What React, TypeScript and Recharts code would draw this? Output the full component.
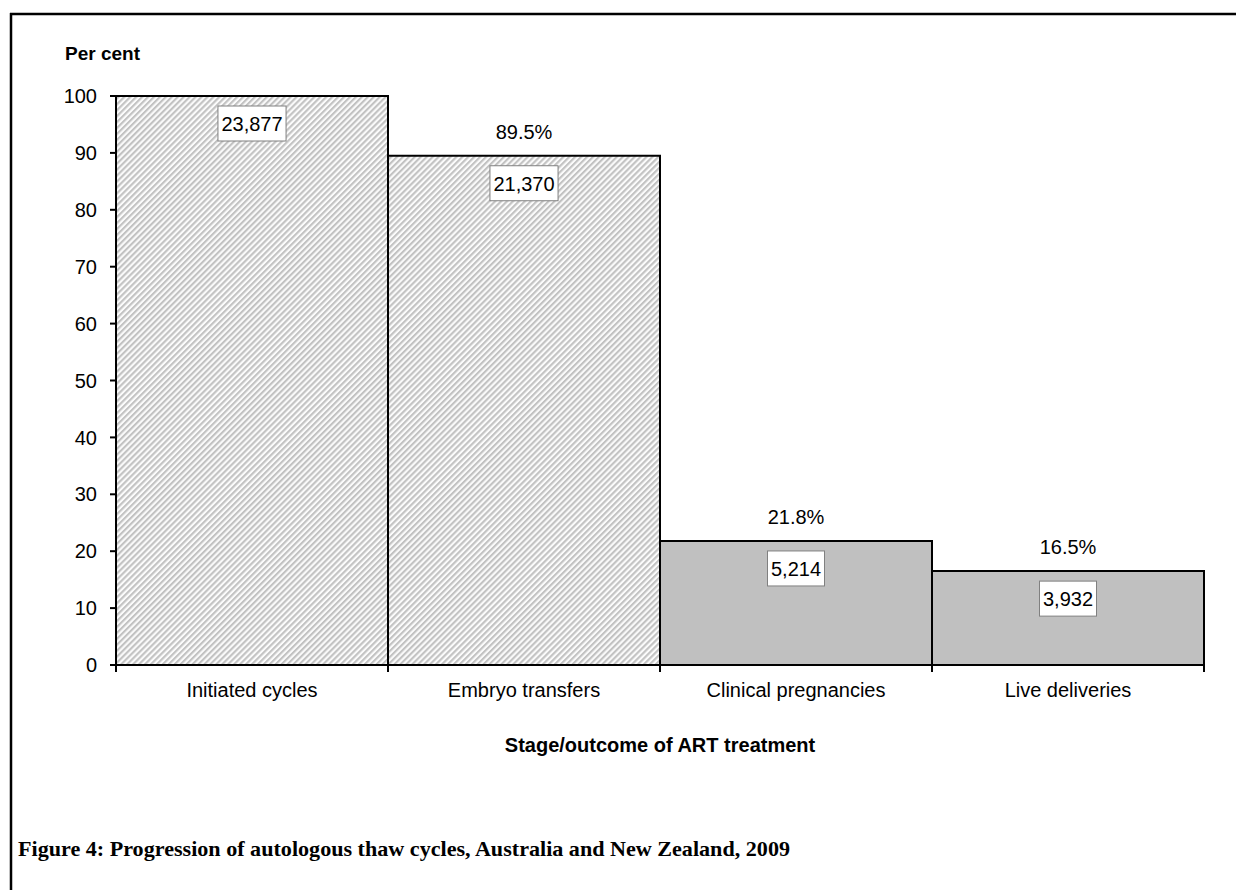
import React from 'react';
import { BarChart, Bar, XAxis, YAxis, Cell, LabelList } from 'recharts';

const categories = ['Initiated cycles', 'Embryo transfers', 'Clinical pregnancies', 'Live deliveries'];
const percentValues = [100, 89.5, 21.8, 16.5];
const counts = ['23,877', '21,370', '5,214', '3,932'];
const percentLabels = ['', '89.5%', '21.8%', '16.5%'];
const yTicks = [0, 10, 20, 30, 40, 50, 60, 70, 80, 90, 100];
const hatched = [true, true, false, false];

const data = categories.map((name, i) => ({
  name,
  value: percentValues[i],
  count: counts[i],
  pct: percentLabels[i],
}));

const W = 1236;
const H = 890;
const MARGIN = { top: 96, right: 32, left: 56, bottom: 175 };
const Y_AXIS_W = 60;
const PLOT_W = W - MARGIN.left - MARGIN.right - Y_AXIS_W;
const HALF_BAND = PLOT_W / categories.length / 2;
const FONT = '"Liberation Sans", Arial, sans-serif';

const CatTick = (props: any) => {
  const { x, y, payload, index } = props;
  return (
    <g>
      <line x1={x - HALF_BAND} y1={y} x2={x - HALF_BAND} y2={y + 7} stroke="#000" strokeWidth={2} />
      {index === categories.length - 1 ? (
        <line x1={x + HALF_BAND} y1={y} x2={x + HALF_BAND} y2={y + 7} stroke="#000" strokeWidth={2} />
      ) : null}
      <text x={x} y={y} dy={32} textAnchor="middle" fontFamily={FONT} fontSize={20} fill="#000">
        {payload.value}
      </text>
    </g>
  );
};

const LabelContent = (props: any) => {
  const { x, y, width, index } = props;
  const cx = Number(x) + Number(width) / 2;
  const top = Number(y);
  const count = counts[index];
  const pct = percentLabels[index];
  const digits = count.replace(/[^0-9]/g, '').length;
  const commas = count.length - digits;
  const bw = digits * 11.1 + commas * 5.6 + 7;
  return (
    <g>
      {pct ? (
        <text x={cx} y={top - 24} textAnchor="middle" dominantBaseline="central" fontFamily={FONT} fontSize={20} fill="#000">
          {pct}
        </text>
      ) : null}
      <rect x={cx - bw / 2} y={top + 10} width={bw} height={35} fill="#fff" stroke="#808080" strokeWidth={1} />
      <text x={cx} y={top + 28} textAnchor="middle" dominantBaseline="central" fontFamily={FONT} fontSize={20} fill="#000">
        {count}
      </text>
    </g>
  );
};

export default function App() {
  return (
    <div style={{ position: 'absolute', left: 0, top: 0, width: W, height: H, background: '#fff' }}>
      <svg width={0} height={0} style={{ position: 'absolute' }}>
        <defs>
          <pattern id="hatch" patternUnits="userSpaceOnUse" width={4.2} height={4.2} patternTransform="rotate(45)">
            <rect x={0} y={0} width={4.2} height={4.2} fill="#fbfbfb" />
            <rect x={0} y={0} width={2.1} height={4.2} fill="#c2c2c2" />
          </pattern>
        </defs>
      </svg>
      <div style={{ position: 'absolute', left: 0, top: 0 }}>
        <BarChart width={W} height={H} data={data} margin={MARGIN} barCategoryGap={0}>
          <XAxis
            dataKey="name"
            axisLine={{ stroke: '#000', strokeWidth: 2 }}
            tickLine={false}
            tickSize={0}
            tickMargin={0}
            tick={<CatTick />}
            height={50}
            interval={0}
          />
          <YAxis
            domain={[0, 100]}
            ticks={yTicks}
            interval={0}
            width={Y_AXIS_W}
            axisLine={{ stroke: '#000', strokeWidth: 2 }}
            tickLine={{ stroke: '#000', strokeWidth: 2 }}
            tickSize={6}
            tickMargin={13}
            tick={{ fill: '#000', fontSize: 20, fontFamily: FONT }}
          />
          <Bar dataKey="value" stroke="#000" strokeWidth={2} isAnimationActive={false}>
            {data.map((d, i) => (
              <Cell key={d.name} fill={hatched[i] ? 'url(#hatch)' : '#c0c0c0'} />
            ))}
            <LabelList dataKey="value" content={<LabelContent />} />
          </Bar>
        </BarChart>
      </div>
      <svg width={W} height={H} style={{ position: 'absolute', left: 0, top: 0, pointerEvents: 'none' }}>
        <line x1={10} y1={14} x2={W} y2={14} stroke="#000" strokeWidth={2.5} />
        <line x1={11} y1={13} x2={11} y2={H} stroke="#000" strokeWidth={2.5} />
        <text x={65} y={60} fontFamily={FONT} fontWeight="bold" fontSize={19} fill="#000">Per cent</text>
        <text x={660} y={752} textAnchor="middle" fontFamily={FONT} fontWeight="bold" fontSize={20} fill="#000">
          Stage/outcome of ART treatment
        </text>
        <text
          x={18}
          y={856}
          fontFamily='"Liberation Serif", "Times New Roman", serif'
          fontWeight="bold"
          fontSize={21}
          fill="#000"
          textLength={772}
          lengthAdjust="spacingAndGlyphs"
        >
          Figure 4: Progression of autologous thaw cycles, Australia and New Zealand, 2009
        </text>
      </svg>
    </div>
  );
}
